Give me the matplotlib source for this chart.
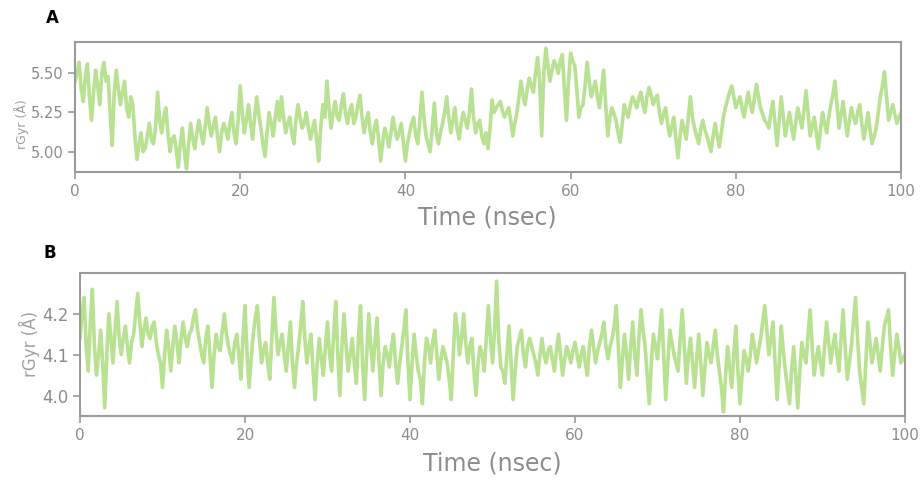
import numpy as np
import matplotlib
matplotlib.use("Agg")
import matplotlib.pyplot as plt

# ---- data ----
# values at every 0.5 ns (0, 0.5, ..., 100)
rgyr_a_half = [
    5.45, 5.57, 5.32, 5.56, 5.20, 5.52, 5.30, 5.57, 5.48, 5.04,
    5.52, 5.30, 5.45, 5.22, 5.30, 4.95, 5.12, 5.02, 5.18, 5.05,
    5.38, 5.12, 5.28, 5.00, 5.10, 4.90, 5.15, 4.89, 5.18, 5.02,
    5.20, 5.05, 5.28, 5.10, 5.22, 5.00, 5.18, 5.08, 5.25, 5.05,
    5.42, 5.12, 5.30, 5.08, 5.35, 5.15, 4.97, 5.25, 5.10, 5.32,
    5.35, 5.12, 5.22, 5.05, 5.30, 5.15, 5.25, 5.08, 5.20, 4.94,
    5.30, 5.45, 5.15, 5.32, 5.20, 5.37, 5.18, 5.30, 5.22, 5.36,
    5.12, 5.25, 5.05, 5.20, 4.94, 5.15, 5.03, 5.22, 5.08, 5.18,
    4.94, 5.12, 5.22, 5.05, 5.38, 5.10, 5.00, 5.31, 5.05, 5.18,
    5.35, 5.12, 5.28, 5.08, 5.25, 5.15, 5.40, 5.12, 5.20, 5.05,
    5.02, 5.33, 5.28, 5.32, 5.22, 5.28, 5.10, 5.25, 5.45, 5.30,
    5.47, 5.38, 5.60, 5.10, 5.66, 5.45, 5.58, 5.50, 5.62, 5.20,
    5.63, 5.55, 5.22, 5.30, 5.57, 5.35, 5.45, 5.28, 5.52, 5.10,
    5.28, 5.20, 5.06, 5.30, 5.22, 5.35, 5.28, 5.38, 5.25, 5.41,
    5.30, 5.36, 5.18, 5.28, 5.10, 5.22, 4.96, 5.20, 5.08, 5.35,
    5.15, 5.05, 5.20, 5.10, 5.00, 5.18, 5.03, 5.22, 5.33, 5.42,
    5.28, 5.35, 5.22, 5.38, 5.25, 5.43, 5.28, 5.20, 5.15, 5.32,
    5.04, 5.35, 5.10, 5.25, 5.08, 5.28, 5.15, 5.39, 5.10, 5.22,
    5.02, 5.25, 5.12, 5.30, 5.45, 5.15, 5.32, 5.10, 5.28, 5.18,
    5.30, 5.08, 5.25, 5.05, 5.15, 5.35, 5.51, 5.20, 5.30, 5.18, 5.25,
]
# values in between (0.25, 0.75, ..., 99.75)
rgyr_a_quarter = [
    5.50, 5.40, 5.48, 5.35, 5.38, 5.42, 5.50, 5.45, 5.25, 5.38,
    5.40, 5.38, 5.28, 5.35, 5.10, 5.05, 5.00, 5.10, 5.08, 5.15,
    5.20, 5.22, 5.12, 5.08, 5.02, 5.05, 5.00, 5.05, 5.08, 5.12,
    5.12, 5.15, 5.18, 5.16, 5.10, 5.12, 5.14, 5.18, 5.12, 5.20,
    5.25, 5.20, 5.18, 5.22, 5.24, 5.05, 5.12, 5.18, 5.22, 5.20,
    5.22, 5.18, 5.12, 5.20, 5.22, 5.18, 5.15, 5.14, 5.08, 5.15,
    5.22, 5.28, 5.25, 5.22, 5.30, 5.24, 5.26, 5.18, 5.30, 5.22,
    5.20, 5.12, 5.15, 5.08, 5.06, 5.10, 5.12, 5.14, 5.12, 5.06,
    5.05, 5.18, 5.10, 5.20, 5.22, 5.05, 5.15, 5.12, 5.12, 5.25,
    5.22, 5.20, 5.15, 5.18, 5.20, 5.25, 5.22, 5.18, 5.10, 5.12,
    5.15, 5.25, 5.30, 5.26, 5.25, 5.20, 5.18, 5.35, 5.35, 5.40,
    5.42, 5.50, 5.45, 5.50, 5.55, 5.52, 5.55, 5.58, 5.40, 5.45,
    5.58, 5.40, 5.28, 5.42, 5.45, 5.40, 5.35, 5.40, 5.30, 5.22,
    5.24, 5.12, 5.18, 5.25, 5.30, 5.32, 5.34, 5.30, 5.35, 5.36,
    5.34, 5.25, 5.24, 5.18, 5.16, 5.08, 5.10, 5.14, 5.22, 5.22,
    5.10, 5.14, 5.14, 5.05, 5.10, 5.10, 5.12, 5.28, 5.38, 5.35,
    5.32, 5.28, 5.30, 5.30, 5.34, 5.35, 5.24, 5.18, 5.25, 5.18,
    5.20, 5.22, 5.18, 5.16, 5.18, 5.22, 5.26, 5.25, 5.16, 5.12,
    5.14, 5.18, 5.22, 5.36, 5.30, 5.24, 5.20, 5.20, 5.22, 5.25,
    5.18, 5.16, 5.14, 5.10, 5.25, 5.42, 5.35, 5.25, 5.24, 5.22,
]

rgyr_b_half = [
    4.14, 4.24, 4.06, 4.26, 4.05, 4.16, 3.97, 4.20, 4.08, 4.23,
    4.10, 4.17, 4.08, 4.15, 4.25, 4.12, 4.19, 4.14, 4.18, 4.10,
    4.02, 4.16, 4.06, 4.17, 4.08, 4.18, 4.12, 4.16, 4.21, 4.13,
    4.08, 4.17, 4.02, 4.15, 4.11, 4.20, 4.12, 4.08, 4.15, 4.04,
    4.22, 4.02, 4.15, 4.22, 4.08, 4.13, 4.04, 4.24, 4.10, 4.15,
    4.06, 4.18, 4.02, 4.12, 4.23, 4.08, 4.15, 3.99, 4.14, 4.05,
    4.18, 4.06, 4.23, 4.00, 4.20, 4.06, 4.14, 4.03, 4.22, 3.99,
    4.20, 4.06, 4.19, 4.00, 4.12, 4.07, 4.15, 4.03, 4.12, 4.21,
    3.99, 4.15, 4.06, 3.98, 4.14, 4.08, 4.16, 4.04, 4.12, 4.08,
    3.99, 4.20, 4.10, 4.20, 4.08, 4.14, 4.00, 4.12, 4.06, 4.22,
    4.08, 4.28, 4.07, 4.03, 4.17, 3.99, 4.12, 4.16, 4.07, 4.14,
    4.10, 4.05, 4.14, 4.08, 4.12, 4.06, 4.15, 4.05, 4.12, 4.08,
    4.13, 4.07, 4.12, 4.05, 4.16, 4.08, 4.13, 4.18, 4.09, 4.14,
    4.22, 4.02, 4.15, 4.04, 4.18, 4.05, 4.21, 4.12, 3.98, 4.15,
    4.09, 4.21, 3.99, 4.16, 4.10, 4.06, 4.21, 4.03, 4.14, 4.02,
    4.15, 4.00, 4.13, 4.08, 4.16, 4.06, 3.96, 4.12, 4.02, 4.17,
    3.98, 4.11, 4.06, 4.15, 4.08, 4.14, 4.22, 4.10, 4.18, 3.99,
    4.17, 4.06, 3.98, 4.12, 3.97, 4.13, 4.08, 4.21, 4.05, 4.12,
    4.05, 4.18, 4.08, 4.15, 4.06, 4.21, 4.04, 4.12, 4.24, 4.06,
    3.98, 4.18, 4.08, 4.14, 4.06, 4.17, 4.21, 4.05, 4.15, 4.08, 4.10,
]
rgyr_b_quarter = [
    4.20, 4.12, 4.18, 4.12, 4.10, 4.08, 4.10, 4.14, 4.16, 4.14,
    4.14, 4.12, 4.13, 4.20, 4.18, 4.16, 4.15, 4.17, 4.13, 4.08,
    4.10, 4.12, 4.12, 4.13, 4.14, 4.14, 4.15, 4.19, 4.16, 4.10,
    4.14, 4.10, 4.10, 4.12, 4.16, 4.15, 4.10, 4.13, 4.10, 4.14,
    4.10, 4.09, 4.19, 4.14, 4.11, 4.08, 4.14, 4.16, 4.13, 4.10,
    4.12, 4.08, 4.08, 4.17, 4.14, 4.12, 4.06, 4.08, 4.09, 4.12,
    4.10, 4.15, 4.10, 4.12, 4.12, 4.10, 4.08, 4.14, 4.08, 4.10,
    4.12, 4.13, 4.08, 4.08, 4.10, 4.12, 4.08, 4.08, 4.16, 4.08,
    4.08, 4.10, 4.04, 4.08, 4.12, 4.13, 4.10, 4.09, 4.10, 4.04,
    4.10, 4.16, 4.14, 4.13, 4.12, 4.06, 4.08, 4.10, 4.14, 4.14,
    4.16, 4.14, 4.06, 4.10, 4.08, 4.06, 4.14, 4.10, 4.12, 4.12,
    4.08, 4.10, 4.10, 4.11, 4.09, 4.11, 4.10, 4.09, 4.10, 4.11,
    4.10, 4.10, 4.08, 4.12, 4.12, 4.11, 4.15, 4.12, 4.12, 4.17,
    4.12, 4.09, 4.10, 4.12, 4.10, 4.14, 4.16, 4.05, 4.08, 4.12,
    4.15, 4.10, 4.08, 4.13, 4.08, 4.14, 4.12, 4.10, 4.08, 4.09,
    4.08, 4.07, 4.10, 4.12, 4.10, 4.02, 4.05, 4.07, 4.10, 4.06,
    4.05, 4.09, 4.10, 4.12, 4.11, 4.18, 4.16, 4.14, 4.08, 4.08,
    4.11, 4.02, 4.06, 4.05, 4.06, 4.10, 4.15, 4.12, 4.09, 4.08,
    4.12, 4.13, 4.12, 4.10, 4.14, 4.12, 4.08, 4.18, 4.14, 4.02,
    4.08, 4.13, 4.11, 4.10, 4.12, 4.19, 4.12, 4.10, 4.12, 4.09,
]

time_ns = np.arange(0, 100.001, 0.25)
rgyr_a = np.empty(len(time_ns))
rgyr_a[0::2] = rgyr_a_half
rgyr_a[1::2] = rgyr_a_quarter
rgyr_b = np.empty(len(time_ns))
rgyr_b[0::2] = rgyr_b_half
rgyr_b[1::2] = rgyr_b_quarter

x_ticks = [0, 20, 40, 60, 80, 100]
y_ticks_a = [5.00, 5.25, 5.50]
y_ticks_b = [4.0, 4.1, 4.2]

# ---- style ----
LINE = "#b8e292"
GRAY = "#8c8c8c"
SPINE = "#9a9a9a"
W, H = 921, 480

fig = plt.figure(figsize=(W / 100, H / 100), dpi=100)

def px_axes(l, t, r, b):
    return fig.add_axes([l / W, 1 - b / H, (r - l) / W, (b - t) / H])

def style(ax, yticks, fmt, ytsize):
    for s in ax.spines.values():
        s.set_color(SPINE)
        s.set_linewidth(1.5)
    ax.set_xlim(0, 100)
    ax.set_xticks(x_ticks)
    ax.set_yticks(yticks)
    ax.set_yticklabels([fmt % v for v in yticks])
    ax.tick_params(axis="both", colors=SPINE, labelcolor=GRAY, length=5, width=1.2)
    ax.tick_params(axis="x", labelsize=11)
    ax.tick_params(axis="y", labelsize=ytsize)

axA = px_axes(75, 42, 901, 172)
axA.plot(time_ns, rgyr_a, color=LINE, lw=2.6)
axA.set_ylim(4.87, 5.70)
style(axA, y_ticks_a, "%.2f", 10.5)

axB = px_axes(80, 273, 905, 416)
axB.plot(time_ns, rgyr_b, color=LINE, lw=2.6)
axB.set_ylim(3.95, 4.30)
style(axB, y_ticks_b, "%.1f", 12)

# axis titles
fig.text(487 / W, 1 - 218 / H, "Time (nsec)", color=GRAY, fontsize=17,
         ha="center", va="center")
fig.text(492 / W, 1 - 464 / H, "Time (nsec)", color=GRAY, fontsize=17,
         ha="center", va="center")
fig.text(22 / W, 1 - 124 / H, "rGyr (Å)", color="#a0a0a0", fontsize=9,
         rotation=90, ha="center", va="center")
fig.text(29 / W, 1 - 344 / H, "rGyr (Å)", color="#a0a0a0", fontsize=12,
         rotation=90, ha="center", va="center")

# panel letters
fig.text(52 / W, 1 - 18 / H, "A", fontsize=12, fontweight="bold",
         ha="center", va="center", color="black")
fig.text(50 / W, 1 - 253 / H, "B", fontsize=12, fontweight="bold",
         ha="center", va="center", color="black")

fig.savefig("out.png", dpi=100)
